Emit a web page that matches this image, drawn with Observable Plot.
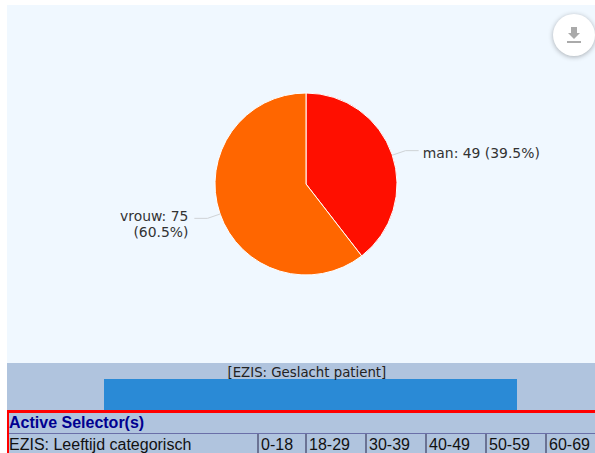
<!DOCTYPE html>
<html>
<head>
<meta charset="utf-8">
<script src="https://cdn.jsdelivr.net/npm/d3@7"></script>
<script src="https://cdn.jsdelivr.net/npm/@observablehq/plot@0.6"></script>
<style>
html,body{margin:0;padding:0;background:#fff;overflow:hidden}
#page{position:relative;width:595px;height:453px;overflow:hidden}
#pie{position:absolute;left:7px;top:5px;width:588px;height:358px;background:#f0f8ff}
#band{position:absolute;left:7px;top:363px;width:588px;height:47px;background:#b0c4de}
#pie svg,#band svg{display:block;background:transparent}
#btn{position:absolute;left:553px;top:14px;width:42px;height:42px;border-radius:50%;background:#fff;box-shadow:0 1px 5px rgba(0,0,0,.3)}
#btn i{position:absolute;display:block}
#btn .stem{left:18px;top:13px;width:6px;height:6px;background:#aaa}
#btn .head{left:15px;top:19px;width:0;height:0;border-left:6px solid transparent;border-right:6px solid transparent;border-top:6px solid #aaa}
#btn .base{left:14px;top:27px;width:14px;height:2px;background:#aaa}
#sel{position:absolute;left:7px;top:410px;width:588px;height:43px;background:#b0c4de;box-sizing:border-box;border-top:3px solid #f00;border-left:2px solid #f00;font-family:"Liberation Sans",Arial,sans-serif;overflow:hidden}
#sel .h{height:20px;line-height:19px;font-weight:bold;font-size:16px;color:#000090;border-bottom:1px solid #6a6fa8;padding-left:0}
#sel .r{position:relative;height:22px;font-size:16px;line-height:22px;color:#111}
#sel .r span{position:absolute;top:0;height:22px;padding-left:2px;border-left:2px solid #6b7394;white-space:nowrap}
#sel .r span.f{border-left:none;padding-left:0}
</style>
</head>
<body>
<div id="page">
  <div id="pie"></div>
  <div id="btn"><i class="stem"></i><i class="head"></i><i class="base"></i></div>
  <div id="band"></div>
  <div id="sel"></div>
</div>
<script>
const categories = ["man", "vrouw"];
const counts = [49, 75];
const percents = ["39.5%", "60.5%"];
const sliceColors = ["#ff0f00", "#ff6600"];
const barTitle = "[EZIS: Geslacht patient]";
const selectorTitle = "Active Selector(s)";
const selectorField = "EZIS: Leeftijd categorisch";
const ageBands = ["0-18", "18-29", "30-39", "40-49", "50-59", "60-69"];

const FONT = '"DejaVu Sans", Verdana, sans-serif';
const W = 588, H = 358, R = 91, CX = 299, CY = 179;

const arcs = d3.pie().sort(null)(counts);
const slices = categories.map((c, i) => {
  const mid = (arcs[i].startAngle + arcs[i].endAngle) / 2;
  return {category: c, count: counts[i], startAngle: arcs[i].startAngle, endAngle: arcs[i].endAngle, mid};
});

const pol = (a, r) => [Math.sin(a) * r, Math.cos(a) * r];
const leaders = slices.flatMap(s => {
  const side = Math.sin(s.mid) > 0 ? 1 : -1;
  const p0 = pol(s.mid, 1), p1 = pol(s.mid, 1.15);
  return [
    {k: s.category, x: p0[0], y: p0[1]},
    {k: s.category, x: p1[0], y: p1[1]},
    {k: s.category, x: p1[0] + side * 0.14, y: p1[1]}
  ];
});
const labels = slices.map((s, i) => {
  const side = Math.sin(s.mid) > 0 ? 1 : -1;
  const p1 = pol(s.mid, 1.15);
  const head = `${s.category}: ${s.count}`;
  return {
    x: p1[0] + side * (side > 0 ? 0.19 : 0.21),
    y: p1[1] - (side > 0 ? 0.03 : 0.057),
    side,
    text: side > 0 ? `${head} (${percents[i]})` : `${head}\n(${percents[i]})`
  };
});

const piePlot = Plot.plot({
  width: W, height: H, margin: 0,
  style: {background: "transparent"},
  x: {domain: [-CX / R, (W - CX) / R], range: [0, W], axis: null},
  y: {domain: [(H - CY) / -R, CY / R], range: [H, 0], axis: null},
  color: {domain: categories, range: sliceColors},
  marks: [
    Plot.dot(slices, {
      x: () => 0, y: () => 0, fill: "category", stroke: "#fff", strokeWidth: 1,
      render(index, scales, values, dims, ctx) {
        const cx = scales.x(0), cy = scales.y(0), r = scales.x(1) - scales.x(0);
        const arc = d3.arc().innerRadius(0).outerRadius(r);
        const g = d3.select(ctx.document.createElementNS("http://www.w3.org/2000/svg", "g"))
          .attr("transform", `translate(${cx},${cy})`).attr("stroke", "#fff").attr("stroke-width", 1);
        for (const i of index) {
          g.append("path").attr("d", arc(slices[i])).attr("fill", values.fill[i]);
        }
        return g.node();
      }
    }),
    Plot.line(leaders, {x: "x", y: "y", z: "k", stroke: "#cfd3d6", strokeWidth: 1}),
    Plot.text(labels.filter(d => d.side > 0), {x: "x", y: "y", text: "text", textAnchor: "start", fill: "#333", fontFamily: FONT, fontSize: 13.9}),
    Plot.text(labels.filter(d => d.side < 0), {x: "x", y: "y", text: "text", textAnchor: "end", lineHeight: 1.15, fill: "#333", fontFamily: FONT, fontSize: 13.9})
  ]
});
document.getElementById("pie").appendChild(piePlot);

const barPlot = Plot.plot({
  width: W, height: 47, margin: 0,
  style: {background: "transparent"},
  x: {domain: [0, 1], range: [97, 510], axis: null},
  y: {domain: [0, 1], range: [47, 16], axis: null},
  marks: [
    Plot.rect([{a: 0, b: 1}], {x1: "a", x2: "b", y1: () => 0, y2: () => 1, fill: "#2a8ad6"}),
    Plot.text([barTitle], {x: () => 0.49, y: () => 1.22, text: d => d, fill: "#222", fontFamily: FONT, fontSize: 13.3})
  ]
});
document.getElementById("band").appendChild(barPlot);

const sel = document.getElementById("sel");
const head = document.createElement("div");
head.className = "h";
head.textContent = selectorTitle;
sel.appendChild(head);
const row = document.createElement("div");
row.className = "r";
const first = document.createElement("span");
first.className = "f";
first.style.left = "0px";
first.textContent = selectorField;
row.appendChild(first);
const cellLefts = [248, 296, 356, 416, 476, 536];
ageBands.forEach((b, i) => {
  const s = document.createElement("span");
  s.style.left = cellLefts[i] + "px";
  s.textContent = b;
  row.appendChild(s);
});
sel.appendChild(row);
</script>
</body>
</html>
